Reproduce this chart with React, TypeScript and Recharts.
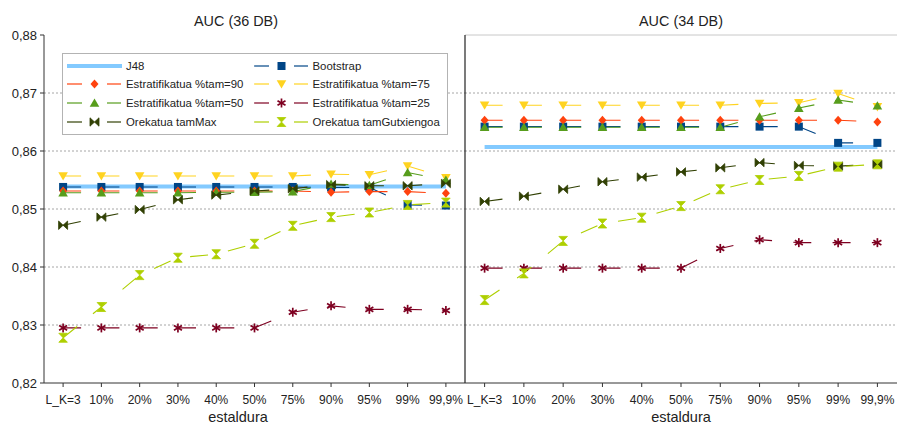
import React from 'react';
import { LineChart, Line, XAxis, YAxis, ReferenceLine, Label, Legend } from 'recharts';

const categories = ['L_K=3', '10%', '20%', '30%', '40%', '50%', '75%', '90%', '95%', '99%', '99,9%'];
const yTicks = [0.82, 0.83, 0.84, 0.85, 0.86, 0.87, 0.88];
const gridTicks = [0.83, 0.84, 0.85, 0.86, 0.87];

// AUC (36 DB)
const j48_36 = [0.8539, 0.8539, 0.8539, 0.8539, 0.8539, 0.8539, 0.8539, 0.8539, 0.8539, 0.8539, 0.8539];
const boot_36 = [0.8538, 0.8538, 0.8538, 0.8538, 0.8538, 0.8538, 0.8538, 0.8537, 0.8537, 0.8507, 0.8506];
const e90_36 = [0.8531, 0.8531, 0.8531, 0.8531, 0.8531, 0.8531, 0.8531, 0.8529, 0.853, 0.853, 0.8527];
const e75_36 = [0.8557, 0.8557, 0.8557, 0.8557, 0.8557, 0.8557, 0.8557, 0.856, 0.8559, 0.8574, 0.8554];
const e50_36 = [0.8528, 0.8528, 0.8528, 0.8528, 0.8529, 0.8529, 0.853, 0.8543, 0.8541, 0.8563, 0.855];
const e25_36 = [0.8295, 0.8295, 0.8295, 0.8295, 0.8295, 0.8295, 0.8322, 0.8333, 0.8327, 0.8327, 0.8325];
const max_36 = [0.8472, 0.8486, 0.8499, 0.8516, 0.8524, 0.8531, 0.8535, 0.8542, 0.854, 0.854, 0.8544];
const min_36 = [0.8278, 0.8331, 0.8386, 0.8416, 0.8422, 0.844, 0.8471, 0.8486, 0.8494, 0.8507, 0.8511];

// AUC (34 DB)
const j48_34 = [0.8607, 0.8607, 0.8607, 0.8607, 0.8607, 0.8607, 0.8607, 0.8607, 0.8607, 0.8607, 0.8607];
const boot_34 = [0.8642, 0.8642, 0.8642, 0.8642, 0.8642, 0.8642, 0.8642, 0.8642, 0.8642, 0.8614, 0.8614];
const e90_34 = [0.8653, 0.8653, 0.8653, 0.8653, 0.8653, 0.8653, 0.8653, 0.8653, 0.8653, 0.8653, 0.865];
const e75_34 = [0.8679, 0.8679, 0.8679, 0.8679, 0.8679, 0.8679, 0.8679, 0.8682, 0.8683, 0.8699, 0.8676];
const e50_34 = [0.8641, 0.8641, 0.8641, 0.8641, 0.8641, 0.8641, 0.8641, 0.8659, 0.8674, 0.8688, 0.8678];
const e25_34 = [0.8398, 0.8398, 0.8398, 0.8398, 0.8398, 0.8398, 0.8432, 0.8447, 0.8442, 0.8442, 0.8442];
const max_34 = [0.8513, 0.8522, 0.8534, 0.8547, 0.8555, 0.8564, 0.8571, 0.858, 0.8575, 0.8574, 0.8577];
const min_34 = [0.8343, 0.8389, 0.8445, 0.8475, 0.8485, 0.8505, 0.8534, 0.855, 0.8557, 0.8573, 0.8577];

type Kind = 'none' | 'square' | 'diamond' | 'down' | 'up' | 'asterisk' | 'bowtie' | 'hourglass';
interface SeriesDef { key: string; name: string; color: string; kind: Kind; }

const series: SeriesDef[] = [
  { key: 'j48', name: 'J48', color: '#83caff', kind: 'none' },
  { key: 'boot', name: 'Bootstrap', color: '#004586', kind: 'square' },
  { key: 'e90', name: 'Estratifikatua %tam=90', color: '#ff420e', kind: 'diamond' },
  { key: 'e75', name: 'Estratifikatua %tam=75', color: '#ffd320', kind: 'down' },
  { key: 'e50', name: 'Estratifikatua %tam=50', color: '#579d1c', kind: 'up' },
  { key: 'e25', name: 'Estratifikatua %tam=25', color: '#7e0021', kind: 'asterisk' },
  { key: 'max', name: 'Orekatua tamMax', color: '#314004', kind: 'bowtie' },
  { key: 'min', name: 'Orekatua tamGutxiengoa', color: '#aecf00', kind: 'hourglass' },
];

const build = (cols: Record<string, number[]>) =>
  categories.map((c, i) => {
    const row: Record<string, string | number> = { cat: c };
    Object.keys(cols).forEach((k) => { row[k] = cols[k][i]; });
    return row;
  });

const data36 = build({ j48: j48_36, boot: boot_36, e90: e90_36, e75: e75_36, e50: e50_36, e25: e25_36, max: max_36, min: min_36 });
const data34 = build({ j48: j48_34, boot: boot_34, e90: e90_34, e75: e75_34, e50: e50_34, e25: e25_34, max: max_34, min: min_34 });

const FONT = '"Liberation Sans", Arial, sans-serif';

function MarkerShape({ kind, cx, cy, color }: { kind: Kind; cx: number; cy: number; color: string }) {
  switch (kind) {
    case 'square':
      return <rect x={cx - 4} y={cy - 4} width={8} height={8} fill={color} />;
    case 'diamond':
      return <path d={`M${cx},${cy - 4.5}L${cx + 4},${cy}L${cx},${cy + 4.5}L${cx - 4},${cy}Z`} fill={color} />;
    case 'down':
      return <path d={`M${cx - 4.8},${cy - 3.8}L${cx + 4.8},${cy - 3.8}L${cx},${cy + 4.5}Z`} fill={color} />;
    case 'up':
      return <path d={`M${cx},${cy - 4.5}L${cx + 4.8},${cy + 3.8}L${cx - 4.8},${cy + 3.8}Z`} fill={color} />;
    case 'asterisk':
      return (
        <g stroke={color} strokeWidth={1.7}>
          <line x1={cx} y1={cy - 4.5} x2={cx} y2={cy + 4.5} />
          <line x1={cx - 4} y1={cy - 2.3} x2={cx + 4} y2={cy + 2.3} />
          <line x1={cx - 4} y1={cy + 2.3} x2={cx + 4} y2={cy - 2.3} />
        </g>
      );
    case 'bowtie':
      return (
        <path
          d={`M${cx - 4.5},${cy - 4.2}L${cx},${cy}L${cx - 4.5},${cy + 4.2}Z M${cx + 4.5},${cy - 4.2}L${cx},${cy}L${cx + 4.5},${cy + 4.2}Z`}
          fill={color}
          stroke={color}
          strokeWidth={0.8}
        />
      );
    case 'hourglass':
      return (
        <path
          d={`M${cx - 4.3},${cy - 4.5}L${cx + 4.3},${cy - 4.5}L${cx},${cy}Z M${cx - 4.3},${cy + 4.5}L${cx + 4.3},${cy + 4.5}L${cx},${cy}Z`}
          fill={color}
          stroke={color}
          strokeWidth={0.8}
        />
      );
    default:
      return null;
  }
}

const makeDot = (s: SeriesDef) => (props: any) => {
  const { cx, cy, index } = props;
  if (cx == null || cy == null) return <g key={`d-${s.key}-${index}`} />;
  return (
    <g key={`d-${s.key}-${index}`}>
      <MarkerShape kind={s.kind} cx={cx} cy={cy} color={s.color} />
    </g>
  );
};

function LegendBox() {
  return (
    <div
      style={{
        position: 'relative',
        width: 386,
        height: 82,
        border: '1px solid #b3b3b3',
        background: '#fff',
        boxSizing: 'border-box',
        fontFamily: FONT,
        fontSize: 11.4,
        color: '#222',
      }}
    >
      {series.map((s, i) => {
        const col = i % 2;
        const row = Math.floor(i / 2);
        const cy = 11.5 + row * 18.8;
        const iconLeft = col === 0 ? 4 : 191;
        const textLeft = col === 0 ? 63 : 249.5;
        return (
          <React.Fragment key={s.key}>
            <svg
              width={56}
              height={14}
              style={{ position: 'absolute', left: iconLeft, top: cy - 7, overflow: 'visible' }}
            >
              {s.kind === 'none' ? (
                <line x1={0} y1={7} x2={55} y2={7} stroke={s.color} strokeWidth={4} />
              ) : (
                <>
                  <line x1={0} y1={7} x2={15} y2={7} stroke={s.color} strokeWidth={1.2} />
                  <line x1={40} y1={7} x2={54} y2={7} stroke={s.color} strokeWidth={1.2} />
                  <MarkerShape kind={s.kind} cx={27.5} cy={7} color={s.color} />
                </>
              )}
            </svg>
            <div
              style={{
                position: 'absolute',
                left: textLeft,
                top: cy - 7,
                height: 14,
                lineHeight: '14px',
                whiteSpace: 'nowrap',
              }}
            >
              {s.name}
            </div>
          </React.Fragment>
        );
      })}
    </div>
  );
}

const tickStyle = { fontSize: 12, fill: '#222', fontFamily: FONT };

function renderLines(dash: string) {
  return series.map((s) => (
    <Line
      key={s.key}
      type="linear"
      dataKey={s.key}
      name={s.name}
      stroke={s.color}
      strokeWidth={s.kind === 'none' ? 4 : 1.1}
      strokeDasharray={s.kind === 'none' ? undefined : dash}
      dot={s.kind === 'none' ? false : makeDot(s)}
      activeDot={false}
      isAnimationActive={false}
      legendType="none"
    />
  ));
}

export default function App() {
  return (
    <div style={{ position: 'absolute', left: 0, top: 0, width: 897, height: 423, background: '#fff', fontFamily: FONT }}>
      <div style={{ position: 'absolute', left: 0, top: 0 }}>
        <LineChart width={465} height={423} data={data36} margin={{ top: 35, right: 0, bottom: 0, left: 0 }}>
          <YAxis
            type="number"
            domain={[0.82, 0.88]}
            ticks={yTicks}
            width={44}
            tickSize={4}
            tickMargin={3}
            tick={{ fontSize: 13, fill: '#222', fontFamily: FONT }}
            tickFormatter={(v: number) => v.toFixed(2).replace('.', ',')}
            axisLine={{ stroke: '#333' }}
            tickLine={{ stroke: '#333' }}
            allowDataOverflow
          />
          <XAxis
            dataKey="cat"
            interval={0}
            height={40}
            tickSize={4}
            tickMargin={8}
            tick={tickStyle}
            padding={{ left: 19.1, right: 19.1 }}
            axisLine={{ stroke: '#333' }}
            tickLine={{ stroke: '#333' }}
          >
            <Label value="estaldura" position="insideBottom" offset={1.5} dx={-16.5} style={{ fontSize: 14.5, fill: '#222', fontFamily: FONT }} />
          </XAxis>
          {gridTicks.map((g) => (
            <ReferenceLine key={g} y={g} stroke="#a6a6a6" strokeDasharray="2 2" />
          ))}
          {renderLines('18 20.3')}
          <Legend
            layout="horizontal"
            verticalAlign="middle"
            align="center"
            content={() => <LegendBox />}
            wrapperStyle={{ left: 62, top: 53, width: 386, height: 82 }}
          />
        </LineChart>
      </div>
      <div style={{ position: 'absolute', left: 460, top: 0 }}>
        <LineChart width={437} height={423} data={data34} margin={{ top: 35, right: 0, bottom: 0, left: 4 }}>
          <YAxis
            type="number"
            domain={[0.82, 0.88]}
            ticks={yTicks}
            width={1}
            tick={false}
            tickLine={false}
            axisLine={{ stroke: '#222', strokeWidth: 1.2 }}
            allowDataOverflow
          />
          <XAxis
            dataKey="cat"
            interval={0}
            height={40}
            tickSize={4}
            tickMargin={8}
            tick={tickStyle}
            padding={{ left: 19.6, right: 19.6 }}
            axisLine={{ stroke: '#333' }}
            tickLine={{ stroke: '#333' }}
          >
            <Label value="estaldura" position="insideBottom" offset={1.5} style={{ fontSize: 14.5, fill: '#222', fontFamily: FONT }} />
          </XAxis>
          {gridTicks.map((g) => (
            <ReferenceLine key={g} y={g} stroke="#a6a6a6" strokeDasharray="2 2" />
          ))}
          <ReferenceLine y={0.88} stroke="#c8c8c8" />
          {renderLines('18 21.3')}
        </LineChart>
      </div>
      <svg width={897} height={423} style={{ position: 'absolute', left: 0, top: 0, pointerEvents: 'none' }}>
        <text x={236} y={26} textAnchor="middle" fontSize={14.4} fill="#222" fontFamily={FONT}>
          AUC (36 DB)
        </text>
        <text x={681} y={26} textAnchor="middle" fontSize={14.4} fill="#222" fontFamily={FONT}>
          AUC (34 DB)
        </text>
      </svg>
    </div>
  );
}
